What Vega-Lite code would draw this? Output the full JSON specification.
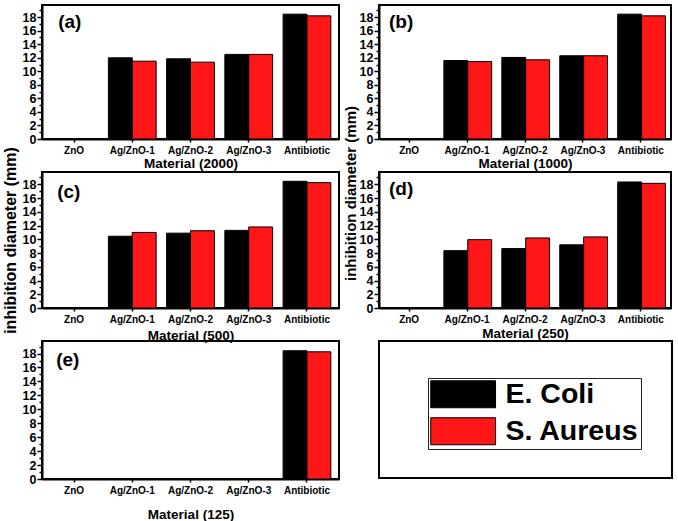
{
  "$schema": "https://vega.github.io/schema/vega-lite/v6.json",
  "padding": {"left": 1, "top": 3, "right": 3, "bottom": 2},
  "background": "white",
  "config": {
    "font": "Liberation Sans",
    "view": {"stroke": "black", "strokeWidth": 2},
    "axis": {
      "labelFont": "Liberation Sans",
      "labelFontWeight": "bold",
      "labelColor": "black",
      "titleFont": "Liberation Sans",
      "titleFontWeight": "bold",
      "titleColor": "black",
      "domainColor": "black",
      "domainWidth": 2,
      "tickColor": "black",
      "tickWidth": 1.5,
      "tickOpacity": 1,
      "ticks": true,
      "grid": false
    },
    "axisX": {"labelFontSize": 10, "labelAngle": 0, "tickSize": 3, "labelPadding": 3, "titleFontSize": 13.5},
    "axisY": {"labelFontSize": 12.5, "labelPadding": 1, "tickSize": 4, "labelOverlap": false},
    "legend": {
      "orient": "none",
      "legendX": 386,
      "legendY": 373,
      "title": null,
      "symbolType": "M-1,-1 L3.8,-1 L3.8,1 L-1,1 Z",
      "symbolSize": 729,
      "symbolStrokeColor": "black",
      "symbolStrokeWidth": 1,
      "labelFont": "Liberation Sans",
      "labelFontWeight": "bold",
      "labelFontSize": 28.5,
      "labelColor": "black",
      "labelOffset": 47,
      "rowPadding": 5,
      "padding": 2,
      "strokeColor": "#222222",
      "strokeWidth": 1,
      "symbolOpacity": 1
    }
  },
  "datasets": {
    "d": [
      {"panel": "a", "material": "ZnO", "series": "E. Coli", "value": 0},
      {"panel": "a", "material": "ZnO", "series": "S. Aureus", "value": 0},
      {"panel": "a", "material": "Ag/ZnO-1", "series": "E. Coli", "value": 12.0},
      {"panel": "a", "material": "Ag/ZnO-1", "series": "S. Aureus", "value": 11.5},
      {"panel": "a", "material": "Ag/ZnO-2", "series": "E. Coli", "value": 11.85},
      {"panel": "a", "material": "Ag/ZnO-2", "series": "S. Aureus", "value": 11.35},
      {"panel": "a", "material": "Ag/ZnO-3", "series": "E. Coli", "value": 12.5},
      {"panel": "a", "material": "Ag/ZnO-3", "series": "S. Aureus", "value": 12.5},
      {"panel": "a", "material": "Antibiotic", "series": "E. Coli", "value": 18.45},
      {"panel": "a", "material": "Antibiotic", "series": "S. Aureus", "value": 18.2},
      {"panel": "b", "material": "ZnO", "series": "E. Coli", "value": 0},
      {"panel": "b", "material": "ZnO", "series": "S. Aureus", "value": 0},
      {"panel": "b", "material": "Ag/ZnO-1", "series": "E. Coli", "value": 11.6},
      {"panel": "b", "material": "Ag/ZnO-1", "series": "S. Aureus", "value": 11.45},
      {"panel": "b", "material": "Ag/ZnO-2", "series": "E. Coli", "value": 12.05},
      {"panel": "b", "material": "Ag/ZnO-2", "series": "S. Aureus", "value": 11.7},
      {"panel": "b", "material": "Ag/ZnO-3", "series": "E. Coli", "value": 12.3},
      {"panel": "b", "material": "Ag/ZnO-3", "series": "S. Aureus", "value": 12.3},
      {"panel": "b", "material": "Antibiotic", "series": "E. Coli", "value": 18.45},
      {"panel": "b", "material": "Antibiotic", "series": "S. Aureus", "value": 18.2},
      {"panel": "c", "material": "ZnO", "series": "E. Coli", "value": 0},
      {"panel": "c", "material": "ZnO", "series": "S. Aureus", "value": 0},
      {"panel": "c", "material": "Ag/ZnO-1", "series": "E. Coli", "value": 10.45},
      {"panel": "c", "material": "Ag/ZnO-1", "series": "S. Aureus", "value": 11.0},
      {"panel": "c", "material": "Ag/ZnO-2", "series": "E. Coli", "value": 10.9},
      {"panel": "c", "material": "Ag/ZnO-2", "series": "S. Aureus", "value": 11.25},
      {"panel": "c", "material": "Ag/ZnO-3", "series": "E. Coli", "value": 11.3},
      {"panel": "c", "material": "Ag/ZnO-3", "series": "S. Aureus", "value": 11.8},
      {"panel": "c", "material": "Antibiotic", "series": "E. Coli", "value": 18.45},
      {"panel": "c", "material": "Antibiotic", "series": "S. Aureus", "value": 18.25},
      {"panel": "d", "material": "ZnO", "series": "E. Coli", "value": 0},
      {"panel": "d", "material": "ZnO", "series": "S. Aureus", "value": 0},
      {"panel": "d", "material": "Ag/ZnO-1", "series": "E. Coli", "value": 8.35},
      {"panel": "d", "material": "Ag/ZnO-1", "series": "S. Aureus", "value": 9.95},
      {"panel": "d", "material": "Ag/ZnO-2", "series": "E. Coli", "value": 8.65},
      {"panel": "d", "material": "Ag/ZnO-2", "series": "S. Aureus", "value": 10.2},
      {"panel": "d", "material": "Ag/ZnO-3", "series": "E. Coli", "value": 9.2},
      {"panel": "d", "material": "Ag/ZnO-3", "series": "S. Aureus", "value": 10.35},
      {"panel": "d", "material": "Antibiotic", "series": "E. Coli", "value": 18.35},
      {"panel": "d", "material": "Antibiotic", "series": "S. Aureus", "value": 18.15},
      {"panel": "e", "material": "ZnO", "series": "E. Coli", "value": 0},
      {"panel": "e", "material": "ZnO", "series": "S. Aureus", "value": 0},
      {"panel": "e", "material": "Ag/ZnO-1", "series": "E. Coli", "value": 0},
      {"panel": "e", "material": "Ag/ZnO-1", "series": "S. Aureus", "value": 0},
      {"panel": "e", "material": "Ag/ZnO-2", "series": "E. Coli", "value": 0},
      {"panel": "e", "material": "Ag/ZnO-2", "series": "S. Aureus", "value": 0},
      {"panel": "e", "material": "Ag/ZnO-3", "series": "E. Coli", "value": 0},
      {"panel": "e", "material": "Ag/ZnO-3", "series": "S. Aureus", "value": 0},
      {"panel": "e", "material": "Antibiotic", "series": "E. Coli", "value": 18.4},
      {"panel": "e", "material": "Antibiotic", "series": "S. Aureus", "value": 18.25}
    ]
  },
  "columns": 2,
  "spacing": {"row": 33, "column": 40},
  "bounds": "flush",
  "concat": [
    {
      "width": 297, "height": 134,
      "resolve": {"axis": {"x": "independent", "y": "independent"}},
      "layer": [
        {
          "data": {"name": "d"},
          "transform": [{"filter": "datum.panel === 'a'"}],
          "mark": {"type": "bar", "stroke": "black", "strokeWidth": 1},
          "encoding": {
            "x": {"field": "material", "type": "nominal", "sort": ["ZnO", "Ag/ZnO-1", "Ag/ZnO-2", "Ag/ZnO-3", "Antibiotic"], "scale": {"paddingInner": 0.18, "paddingOuter": 0.14}, "axis": {"title": "Material (2000)", "titlePadding": 1}},
            "xOffset": {"field": "series", "type": "nominal", "sort": ["E. Coli", "S. Aureus"]},
            "y": {"field": "value", "type": "quantitative", "scale": {"domain": [0, 19.8], "nice": false}, "axis": {"title": null, "labelOverlap": false, "values": [0,1,2,3,4,5,6,7,8,9,10,11,12,13,14,15,16,17,18,19], "labelExpr": "datum.value % 2 === 0 ? datum.label : ''", "tickSize": {"condition": {"test": "datum.value % 2 === 0", "value": 5}, "value": 3}}},
            "color": {"field": "series", "type": "nominal", "scale": {"domain": ["E. Coli", "S. Aureus"], "range": ["#000000", "#ff1616"]}}
          }
        },
        {
          "data": {"values": [{"label": "(a)"}]},
          "mark": {"type": "text", "align": "left", "baseline": "middle", "fontSize": 19, "fontWeight": "bold", "font": "Liberation Sans", "color": "black", "dx": 8},
          "encoding": {"x": {"datum": "ZnO", "type": "nominal", "bandPosition": 0, "axis": null}, "y": {"datum": 17.3, "type": "quantitative", "axis": null}, "text": {"field": "label"}}
        }
      ]
    },
    {
      "width": 292, "height": 134,
      "resolve": {"axis": {"x": "independent", "y": "independent"}},
      "layer": [
        {
          "data": {"name": "d"},
          "transform": [{"filter": "datum.panel === 'b'"}],
          "mark": {"type": "bar", "stroke": "black", "strokeWidth": 1},
          "encoding": {
            "x": {"field": "material", "type": "nominal", "sort": ["ZnO", "Ag/ZnO-1", "Ag/ZnO-2", "Ag/ZnO-3", "Antibiotic"], "scale": {"paddingInner": 0.2, "paddingOuter": 0.12}, "axis": {"title": "Material (1000)", "titlePadding": 1}},
            "xOffset": {"field": "series", "type": "nominal", "sort": ["E. Coli", "S. Aureus"]},
            "y": {"field": "value", "type": "quantitative", "scale": {"domain": [0, 19.8], "nice": false}, "axis": {"title": null, "labelOverlap": false, "values": [0,1,2,3,4,5,6,7,8,9,10,11,12,13,14,15,16,17,18,19], "labelExpr": "datum.value % 2 === 0 ? datum.label : ''", "tickSize": {"condition": {"test": "datum.value % 2 === 0", "value": 5}, "value": 3}}},
            "color": {"field": "series", "type": "nominal", "scale": {"domain": ["E. Coli", "S. Aureus"], "range": ["#000000", "#ff1616"]}}
          }
        },
        {
          "data": {"values": [{"label": "(b)"}]},
          "mark": {"type": "text", "align": "left", "baseline": "middle", "fontSize": 19, "fontWeight": "bold", "font": "Liberation Sans", "color": "black", "dx": 3},
          "encoding": {"x": {"datum": "ZnO", "type": "nominal", "bandPosition": 0, "axis": null}, "y": {"datum": 17.3, "type": "quantitative", "axis": null}, "text": {"field": "label"}}
        }
      ]
    },
    {
      "width": 297, "height": 136,
      "resolve": {"axis": {"x": "independent", "y": "independent"}},
      "layer": [
        {
          "data": {"name": "d"},
          "transform": [{"filter": "datum.panel === 'c'"}],
          "mark": {"type": "bar", "stroke": "black", "strokeWidth": 1},
          "encoding": {
            "x": {"field": "material", "type": "nominal", "sort": ["ZnO", "Ag/ZnO-1", "Ag/ZnO-2", "Ag/ZnO-3", "Antibiotic"], "scale": {"paddingInner": 0.18, "paddingOuter": 0.14}, "axis": {"title": "Material (500)", "titlePadding": 4}},
            "xOffset": {"field": "series", "type": "nominal", "sort": ["E. Coli", "S. Aureus"]},
            "y": {"field": "value", "type": "quantitative", "scale": {"domain": [0, 19.8], "nice": false}, "axis": {"title": "inhibition diameter (mm)", "titleFontSize": 16, "titlePadding": 4, "labelOverlap": false, "values": [0,1,2,3,4,5,6,7,8,9,10,11,12,13,14,15,16,17,18,19], "labelExpr": "datum.value % 2 === 0 ? datum.label : ''", "tickSize": {"condition": {"test": "datum.value % 2 === 0", "value": 5}, "value": 3}}},
            "color": {"field": "series", "type": "nominal", "scale": {"domain": ["E. Coli", "S. Aureus"], "range": ["#000000", "#ff1616"]}}
          }
        },
        {
          "data": {"values": [{"label": "(c)"}]},
          "mark": {"type": "text", "align": "left", "baseline": "middle", "fontSize": 19, "fontWeight": "bold", "font": "Liberation Sans", "color": "black", "dx": 7},
          "encoding": {"x": {"datum": "ZnO", "type": "nominal", "bandPosition": 0, "axis": null}, "y": {"datum": 16.9, "type": "quantitative", "axis": null}, "text": {"field": "label"}}
        }
      ]
    },
    {
      "width": 292, "height": 136,
      "resolve": {"axis": {"x": "independent", "y": "independent"}},
      "layer": [
        {
          "data": {"name": "d"},
          "transform": [{"filter": "datum.panel === 'd'"}],
          "mark": {"type": "bar", "stroke": "black", "strokeWidth": 1},
          "encoding": {
            "x": {"field": "material", "type": "nominal", "sort": ["ZnO", "Ag/ZnO-1", "Ag/ZnO-2", "Ag/ZnO-3", "Antibiotic"], "scale": {"paddingInner": 0.2, "paddingOuter": 0.12}, "axis": {"title": "Material (250)", "titlePadding": 2}},
            "xOffset": {"field": "series", "type": "nominal", "sort": ["E. Coli", "S. Aureus"]},
            "y": {"field": "value", "type": "quantitative", "scale": {"domain": [0, 19.8], "nice": false}, "axis": {"title": "inhibition diameter (mm)", "titleFontSize": 15, "titlePadding": 1, "titleY": 21, "labelOverlap": false, "values": [0,1,2,3,4,5,6,7,8,9,10,11,12,13,14,15,16,17,18,19], "labelExpr": "datum.value % 2 === 0 ? datum.label : ''", "tickSize": {"condition": {"test": "datum.value % 2 === 0", "value": 5}, "value": 3}}},
            "color": {"field": "series", "type": "nominal", "scale": {"domain": ["E. Coli", "S. Aureus"], "range": ["#000000", "#ff1616"]}}
          }
        },
        {
          "data": {"values": [{"label": "(d)"}]},
          "mark": {"type": "text", "align": "left", "baseline": "middle", "fontSize": 19, "fontWeight": "bold", "font": "Liberation Sans", "color": "black", "dx": 3},
          "encoding": {"x": {"datum": "ZnO", "type": "nominal", "bandPosition": 0, "axis": null}, "y": {"datum": 17.3, "type": "quantitative", "axis": null}, "text": {"field": "label"}}
        }
      ]
    },
    {
      "width": 297, "height": 138,
      "resolve": {"axis": {"x": "independent", "y": "independent"}},
      "layer": [
        {
          "data": {"name": "d"},
          "transform": [{"filter": "datum.panel === 'e'"}],
          "mark": {"type": "bar", "stroke": "black", "strokeWidth": 1},
          "encoding": {
            "x": {"field": "material", "type": "nominal", "sort": ["ZnO", "Ag/ZnO-1", "Ag/ZnO-2", "Ag/ZnO-3", "Antibiotic"], "scale": {"paddingInner": 0.18, "paddingOuter": 0.14}, "axis": {"title": "Material (125)", "titlePadding": 12}},
            "xOffset": {"field": "series", "type": "nominal", "sort": ["E. Coli", "S. Aureus"]},
            "y": {"field": "value", "type": "quantitative", "scale": {"domain": [0, 19.8], "nice": false}, "axis": {"title": null, "labelOverlap": false, "values": [0,1,2,3,4,5,6,7,8,9,10,11,12,13,14,15,16,17,18,19], "labelExpr": "datum.value % 2 === 0 ? datum.label : ''", "tickSize": {"condition": {"test": "datum.value % 2 === 0", "value": 5}, "value": 3}}},
            "color": {"field": "series", "type": "nominal", "scale": {"domain": ["E. Coli", "S. Aureus"], "range": ["#000000", "#ff1616"]}}
          }
        },
        {
          "data": {"values": [{"label": "(e)"}]},
          "mark": {"type": "text", "align": "left", "baseline": "middle", "fontSize": 19, "fontWeight": "bold", "font": "Liberation Sans", "color": "black", "dx": 6},
          "encoding": {"x": {"datum": "ZnO", "type": "nominal", "bandPosition": 0, "axis": null}, "y": {"datum": 17.1, "type": "quantitative", "axis": null}, "text": {"field": "label"}}
        }
      ]
    },
    {
      "width": 293, "height": 137,
      "data": {"values": [{"t": ""}]},
      "mark": {"type": "text"},
      "encoding": {
        "x": {"datum": 0, "type": "quantitative", "axis": null},
        "y": {"datum": 0, "type": "quantitative", "axis": null},
        "text": {"field": "t"}
      }
    }
  ]
}
